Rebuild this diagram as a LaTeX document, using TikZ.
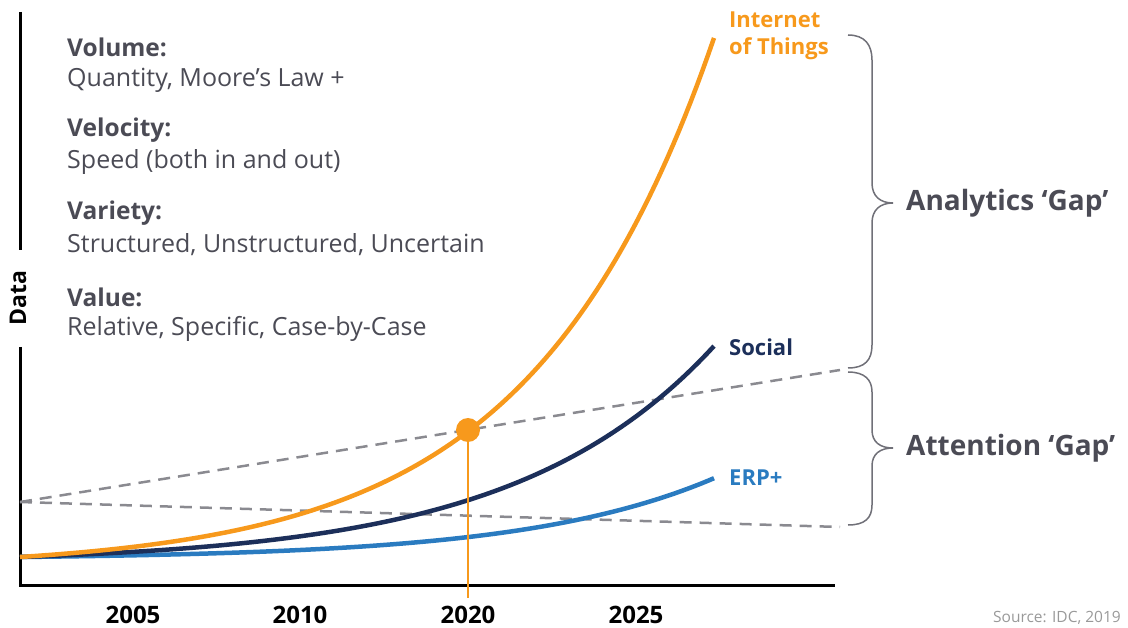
\documentclass[tikz,border=0pt]{standalone}
\usepackage{fontspec}
\setmainfont{Open Sans}
\definecolor{iot}{HTML}{F7991C}
\definecolor{social}{HTML}{1C2F5A}
\definecolor{erp}{HTML}{2A7BC0}
\definecolor{txt}{HTML}{4B4B55}
\definecolor{gapline}{HTML}{8A8A90}
\definecolor{bracecol}{HTML}{707078}
\tikzstyle{head}=[anchor=west, inner sep=0pt, text=txt, font=\fontsize{24.5}{28}\selectfont\bfseries]
\tikzstyle{body}=[anchor=west, inner sep=0pt, text=txt, font=\fontsize{25}{28}\selectfont]
\tikzstyle{year}=[inner sep=0pt, font=\fontsize{24}{26}\selectfont\bfseries]
\tikzstyle{curvelabel}=[anchor=west, inner sep=0pt, font=\fontsize{22}{27}\selectfont\bfseries, align=left]
\tikzstyle{gaplabel}=[anchor=west, inner sep=0pt, text=txt, font=\fontsize{28}{30}\selectfont\bfseries]
\tikzstyle{trend}=[line width=4.5pt, line cap=butt]
\tikzstyle{gap}=[gapline, line width=2.5pt, dash pattern=on 12pt off 8pt]
\tikzstyle{curly}=[bracecol, line width=1.5pt]

\begin{document}
\begin{tikzpicture}[x=1pt, y=-1pt]
  \useasboundingbox (0,0) rectangle (1128,628);

  % axes
  \coordinate (O) at (20,585);
  \coordinate (Xend) at (835,585);
  \coordinate (Ytop) at (20,12);
  \coordinate (Ybreak1) at (20,250);
  \coordinate (Ybreak2) at (20,347);
  \draw[line width=3pt] (Ytop) -- (Ybreak1);
  \draw[line width=3pt] (Ybreak2) -- (O) -- (Xend);
  \node[rotate=90, inner sep=0pt, font=\fontsize{23}{24}\selectfont\bfseries] (data) at (18,298) {Data};

  % gap lines
  \coordinate (start) at (20,502);
  \coordinate (gapTop) at (840,370);
  \coordinate (gapBot) at (840,527);
  \draw[gap] (start) -- (gapTop);
  \draw[gap] (start) -- (gapBot);

  % trend curves
  \draw[trend, erp] plot[domain=0:694, samples=90] ({20+\x},{557-2.05*(exp(0.0053*\x)-1)}) coordinate (erpEnd);
  \draw[trend, social] plot[domain=0:694, samples=90] ({20+\x},{557-6.75*(exp(0.005*\x)-1)}) coordinate (socialEnd);
  \draw[trend, iot] plot[domain=0:694, samples=120] ({20+\x},{557-11.73*(exp(0.0055*\x)-1)}) coordinate (iotEnd);

  % 2020 marker
  \node[circle, fill=iot, minimum size=24pt, inner sep=0pt] (dot) at (468,430) {};
  \coordinate (dotFoot) at (468,598);
  \draw[iot, line width=2pt] (dot.center) -- (dotFoot);

  % years
  \node[year] (y2005) at (133,615) {2005};
  \node[year] (y2010) at (300,615) {2010};
  \node[year] (y2020) at (468,615) {2020};
  \node[year] (y2025) at (636,615) {2025};

  % curve labels
  \node[curvelabel, text=iot] (iotLabel) at (729,36) {Internet\\of Things};
  \node[curvelabel, text=social] (socialLabel) at (729,347) {Social};
  \node[curvelabel, text=erp] (erpLabel) at (729,478) {ERP+};

  % the four V's
  \node[head] (volume) at (67,47) {Volume:};
  \node[body] (volumeText) at (67,80) {Quantity, Moore’s Law +};
  \node[head] (velocity) at (67,130) {Velocity:};
  \node[body] (velocityText) at (67,162) {Speed (both in and out)};
  \node[head] (variety) at (67,213) {Variety:};
  \node[body] (varietyText) at (67,245) {Structured, Unstructured, Uncertain};
  \node[head] (value) at (67,297) {Value:};
  \node[body] (valueText) at (67,329) {Relative, Specific, Case-by-Case};

  % braces
  \draw[curly] (848,35) .. controls (865,35) and (872,45) .. (872,60) -- (872,183)
    .. controls (872,196) and (880,203) .. (893,203)
    .. controls (880,203) and (872,210) .. (872,223) -- (872,345)
    .. controls (872,360) and (865,368) .. (848,368);
  \draw[curly] (848,372) .. controls (865,372) and (872,380) .. (872,392) -- (872,430)
    .. controls (872,442) and (880,448) .. (893,448)
    .. controls (880,448) and (872,454) .. (872,466) -- (872,505)
    .. controls (872,518) and (865,525) .. (848,525);
  \node[gaplabel] (analytics) at (906,203) {Analytics ‘Gap’};
  \node[gaplabel] (attention) at (906,448) {Attention ‘Gap’};

  \node[anchor=east, inner sep=0pt, text=black!40, font=\fontsize{15.5}{18}\selectfont] (source) at (1121,618) {Source: IDC, 2019};
\end{tikzpicture}
\end{document}
